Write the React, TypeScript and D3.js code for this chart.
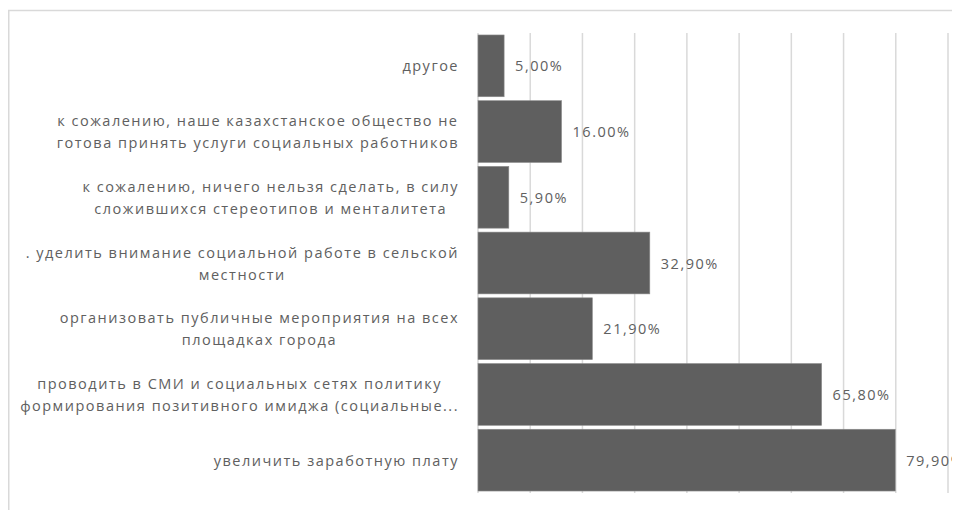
import React, { useEffect, useRef } from "react";
import * as d3 from "d3";

const categories: string[][] = [
  ["другое"],
  ["к сожалению, наше казахстанское общество не", "готова принять услуги социальных работников"],
  ["к сожалению, ничего нельзя сделать, в силу", "сложившихся стереотипов и менталитета"],
  [". уделить внимание социальной работе в сельской", "местности"],
  ["организовать публичные мероприятия на всех", "площадках города"],
  ["проводить в СМИ и социальных сетях политику", "формирования позитивного имиджа (социальные..."],
  ["увеличить заработную плату"],
];
const values: number[] = [5.0, 16.0, 5.9, 32.9, 21.9, 65.8, 79.9];
const valueLabels: string[] = ["5,00%", "16.00%", "5,90%", "32,90%", "21,90%", "65,80%", "79,90%"];
const gridTicks: number[] = [10, 20, 30, 40, 50, 60, 70, 80, 90];

const W = 952;
const H = 502;
const FONT = "'Open Sans', sans-serif";
const FS = 14.5;
const LS = 1.5;
const TEXT = "#606060";

export default function App() {
  const ref = useRef<SVGSVGElement>(null);
  useEffect(() => {
    const svg = d3.select(ref.current);
    svg.selectAll("*").remove();
    const x = d3.scaleLinear().domain([0, 90]).range([470, 940]);
    const y = d3
      .scaleBand<number>()
      .domain(d3.range(values.length))
      .range([25, 485])
      .paddingInner(0.06)
      .paddingOuter(0.03);

    svg
      .append("rect")
      .attr("x", 0.75)
      .attr("y", 2.5)
      .attr("width", 2000)
      .attr("height", 2000)
      .attr("fill", "#ffffff")
      .attr("stroke", "#d9d9d9")
      .attr("stroke-width", 1.5);

    svg
      .append("g")
      .selectAll("line")
      .data(gridTicks)
      .join("line")
      .attr("x1", (d) => x(d))
      .attr("x2", (d) => x(d))
      .attr("y1", 25)
      .attr("y2", 485)
      .attr("stroke", "#d9d9d9")
      .attr("stroke-width", 1.5);

    svg
      .append("line")
      .attr("x1", x(0))
      .attr("x2", x(0))
      .attr("y1", 25)
      .attr("y2", 485)
      .attr("stroke", "#d9d9d9")
      .attr("stroke-width", 1.5);

    svg
      .append("g")
      .selectAll("rect")
      .data(values)
      .join("rect")
      .attr("x", x(0))
      .attr("y", (_, i) => y(i)!)
      .attr("width", (d) => x(d) - x(0))
      .attr("height", y.bandwidth())
      .attr("fill", "#5f5f5f")
      .attr("stroke", "#8c8c8c")
      .attr("stroke-width", 0.6);

    svg
      .append("g")
      .selectAll("text")
      .data(values)
      .join("text")
      .attr("x", (d) => x(d) + 11)
      .attr("y", (_, i) => y(i)! + y.bandwidth() / 2)
      .attr("dominant-baseline", "central")
      .attr("font-family", FONT)
      .attr("font-size", FS)
      .attr("letter-spacing", LS)
      .attr("fill", TEXT)
      .text((_, i) => valueLabels[i]);

    const right = 451;
    const lh = 22;
    categories.forEach((lines, i) => {
      const g = svg.append("g");
      const cy = y(i)! + y.bandwidth() / 2;
      const texts = lines.map((ln, j) =>
        g
          .append("text")
          .attr("y", cy + (j - (lines.length - 1) / 2) * lh)
          .attr("dominant-baseline", "central")
          .attr("text-anchor", "middle")
          .attr("font-family", FONT)
          .attr("font-size", FS)
          .attr("letter-spacing", LS)
          .attr("fill", TEXT)
          .text(ln)
      );
      const widths = texts.map((t) => (t.node() as SVGTextElement).getComputedTextLength());
      const maxW = Math.max(...widths);
      texts.forEach((t) => t.attr("x", right - maxW / 2));
    });
  }, []);
  return <svg ref={ref} width={W} height={H} style={{ display: "block" }} />;
}
